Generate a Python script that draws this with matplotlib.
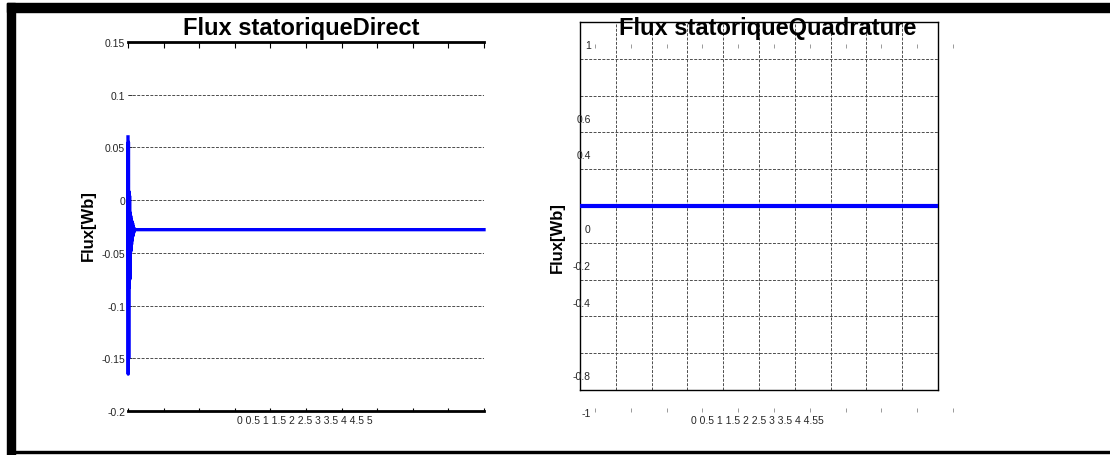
import numpy as np
import matplotlib
matplotlib.use("Agg")
import matplotlib.pyplot as plt
from matplotlib.patches import Rectangle

plt.rcParams['font.family'] = ['Liberation Sans', 'DejaVu Sans']

# Stator flux, direct axis: start-up transient then steady value
t_direct = [0.000, 0.003, 0.006, 0.010, 0.014, 0.018, 0.022, 0.026, 0.030,
            0.034, 0.038, 0.042, 0.046, 0.050, 0.055, 0.060, 0.065, 0.070,
            0.075, 0.080, 0.090, 0.100, 5.000]
flux_direct = [0.060, -0.165, 0.055, -0.150, 0.008, -0.083, 0.004, -0.075,
               -0.012, -0.050, -0.015, -0.048, -0.018, -0.042, -0.020, -0.038,
               -0.022, -0.034, -0.025, -0.031, -0.027, -0.028, -0.028]

# Stator flux, quadrature axis
t_quad = [0.0, 5.0]
flux_quad = [0.0, 0.0]

x_ticks = [0, 0.5, 1, 1.5, 2, 2.5, 3, 3.5, 4, 4.5, 5]
direct_yticks = [0.15, 0.1, 0.05, 0, -0.05, -0.1, -0.15, -0.2]
direct_ylabels = ['0.15', '0.1', '0.05', '0', '-0.05', '-0.1', '-0.15', '-0.2']
quad_yticks = [1, 0.6, 0.4, 0, -0.2, -0.4, -0.8, -1]
quad_ylabels = ['1', '0.6', '0.4', '0', '-0.2', '-0.4', '-0.8', '-1']
quad_grid_y = [-1, -0.8, -0.6, -0.4, -0.2, 0, 0.2, 0.4, 0.6, 0.8, 1]
direct_xlabel = '0 0.5 1 1.5 2 2.5 3 3.5 4 4.5 5'
quad_xlabel = '0 0.5 1 1.5 2 2.5 3 3.5 4 4.55'

W, H = 1110, 456
fig = plt.figure(figsize=(W / 100, H / 100), dpi=100)
fig.patch.set_facecolor('white')


def box(x0, y0, x1, y1):
    """Axes rectangle given in pixel coordinates (origin top-left)."""
    return [x0 / W, 1 - y1 / H, (x1 - x0) / W, (y1 - y0) / H]


# frame bars around the page
fig.add_artist(Rectangle((7 / W, 1 - 13 / H), (W - 7) / W, 9 / H,
                         transform=fig.transFigure, color='black', zorder=0))
fig.add_artist(Rectangle((7 / W, 0), 8 / W, 1 - 4 / H,
                         transform=fig.transFigure, color='black', zorder=0))
fig.add_artist(Rectangle((15 / W, 2 / H), (W - 15) / W, 2 / H,
                         transform=fig.transFigure, color='black', zorder=0))

grid_kw = dict(color='0.3', linestyle=(0, (3, 1.5)), linewidth=0.7)
tick_fs = 7.5
title_fs = 17
label_fs = 12

# ---- Direct-axis flux ----
ax1 = fig.add_axes(box(128, 43, 484, 412))
ax1.plot(t_direct, flux_direct, color='#0000ff', linewidth=2.4, zorder=3,
         clip_on=False)
ax1.set_xlim(0, 5)
ax1.set_ylim(-0.2, 0.15)
ax1.set_xticks(x_ticks)
ax1.set_xticklabels([])
ax1.set_yticks(direct_yticks)
ax1.set_yticklabels(direct_ylabels, fontsize=tick_fs, color='0.15')
ax1.yaxis.grid(True, **grid_kw)
ax1.tick_params(axis='x', direction='in', length=4, width=0.8,
                top=True, bottom=True)
for tk in ax1.xaxis.get_major_ticks():
    tk.tick1line.set_color('0.6')    # bottom ticks, faint
    tk.tick1line.set_markersize(2.5)
    tk.tick2line.set_color('0.1')    # top ticks, dark
ax1.tick_params(axis='y', direction='in', length=3, width=0.7,
                color='0.2', pad=2)
for side in ('left', 'right'):
    ax1.spines[side].set_visible(False)
for side in ('top', 'bottom'):
    ax1.spines[side].set_linewidth(2.0)
    ax1.spines[side].set_color('black')
fig.text(301 / W, 1 - 28 / H, 'Flux statoriqueDirect', ha='center',
         va='center', fontsize=title_fs, fontweight='bold')
fig.text(88 / W, 1 - 226 / H, 'Flux[Wb]', ha='center', va='center',
         rotation=90, fontsize=label_fs, fontweight='bold')
fig.text(305 / W, 1 - 421 / H, direct_xlabel, ha='center', va='center',
         fontsize=tick_fs, color='0.15')

# ---- Quadrature-axis flux ----
ax2 = fig.add_axes(box(580, 23, 938, 391))
ax2.set_xlim(0, 5)
ax2.set_ylim(-1, 1)
ax2.set_xticks(x_ticks)
ax2.set_yticks(quad_grid_y)
ax2.set_xticklabels([])
ax2.set_yticklabels([])
ax2.tick_params(length=0)
ax2.grid(True, **grid_kw)
ax2.plot(t_quad, flux_quad, color='#0000ff', linewidth=3.0, zorder=3)
for sp in ax2.spines.values():
    sp.set_linewidth(1.0)
    sp.set_color('black')

# tick marks and labels of the quadrature plot
ax3 = fig.add_axes(box(595, 45, 953, 413))
ax3.patch.set_visible(False)
for sp in ax3.spines.values():
    sp.set_visible(False)
ax3.set_xlim(0, 5)
ax3.set_ylim(-1, 1)
ax3.set_xticks(x_ticks)
ax3.set_xticklabels([])
ax3.set_yticks(quad_yticks)
ax3.set_yticklabels(quad_ylabels, fontsize=tick_fs, color='0.15')
ax3.tick_params(axis='x', direction='in', length=3, width=0.7,
                color='0.6', top=True, bottom=True)
for tk in ax3.xaxis.get_major_ticks():
    tk.tick2line.set_linestyle((0, (1, 1.5)))
ax3.tick_params(axis='y', length=0, pad=3)

fig.text(768 / W, 1 - 28 / H, 'Flux statoriqueQuadrature', ha='center',
         va='center', fontsize=title_fs, fontweight='bold')
fig.text(557 / W, 1 - 238 / H, 'Flux[Wb]', ha='center', va='center',
         rotation=90, fontsize=label_fs, fontweight='bold')
fig.text(757 / W, 1 - 421 / H, quad_xlabel, ha='center', va='center',
         fontsize=tick_fs, color='0.15')

fig.savefig('out.png', dpi=100, facecolor='white')
